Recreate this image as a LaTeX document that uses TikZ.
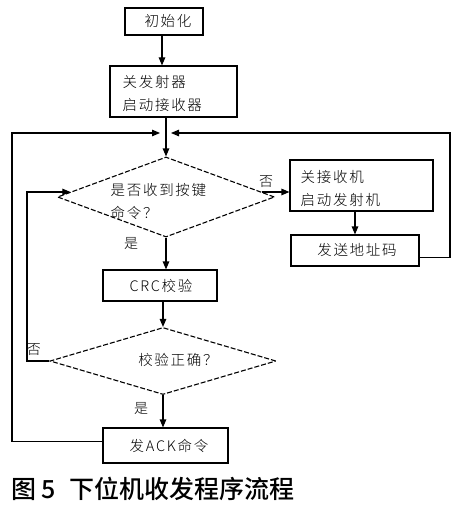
\documentclass[tikz,border=0pt]{standalone}
\usepackage{fontspec}
\setmainfont{Noto Sans CJK SC}[BoldFont={Noto Sans CJK SC Bold}]
\newfontfamily\bodyfont{Noto Sans CJK SC Light}[LetterSpace=12]
\newfontfamily\capfont{Noto Sans CJK SC Medium}
\usetikzlibrary{arrows.meta,shapes.geometric,calc}
\begin{document}
\begin{tikzpicture}[x=1pt,y=-1pt,
  line width=1.1pt,
  arr/.style={-{Triangle[length=8pt,width=6.5pt]}},
  procbox/.style={draw,rectangle,inner sep=0pt},
  decbox/.style={draw,diamond,dashed,dash pattern=on 5pt off 2pt,inner sep=0pt},
  txt/.style={font=\bodyfont\fontsize{14.5}{23}\selectfont,inner sep=0pt},
  lbl/.style={font=\bodyfont\fontsize{14}{16}\selectfont,inner sep=0pt}]
\useasboundingbox (0,0) rectangle (458,508);
% process boxes
\node[procbox,minimum width=78pt,minimum height=27pt] (init) at (164,21.5) {};
\node[txt] (tinit) at (168,21) {初始化};
\node[procbox,minimum width=127pt,minimum height=51pt] (b1) at (173.5,91.5) {};
\node[txt,anchor=west,align=left] (tb1) at (122,93) {关发射器\\启动接收器};
\node[decbox,minimum width=217pt,minimum height=80pt] (d1) at (166,197) {};
\node[txt,anchor=west,align=left] (td1) at (110,201) {是否收到按键\\命令？};
\node[procbox,minimum width=143pt,minimum height=51pt] (b3) at (361.5,185.5) {};
\node[txt,anchor=west,align=left] (tb3) at (300,189) {关接收机\\启动发射机};
\node[procbox,minimum width=128pt,minimum height=31pt] (b4) at (355,250.5) {};
\node[txt] (tb4) at (357,250.5) {发送地址码};
\node[procbox,minimum width=114pt,minimum height=31pt] (crc) at (160,285.5) {};
\node[txt] (tcrc) at (161,285.5) {CRC校验};
\node[decbox,minimum width=226pt,minimum height=67pt] (d2) at (163,361) {};
\node[txt] (td2) at (178,360) {校验正确？};
\node[procbox,minimum width=125pt,minimum height=35pt] (ack) at (165.5,445.5) {};
\node[txt] (tack) at (169,445.5) {发ACK命令};
% labels
\node[lbl] (lno1) at (266,182) {否};
\node[lbl] (lyes1) at (131,243) {是};
\node[lbl] (lno2) at (34,350) {否};
\node[lbl] (lyes2) at (141,408) {是};
% coordinates
\coordinate (L) at (12,133);
\coordinate (R) at (450,133);
\coordinate (mL) at (160,133);
\coordinate (mR) at (171,133);
\coordinate (L2) at (27,361);
% connectors
\draw[arr] (init.south -| 162,0) -- (b1.north -| 162,0);
\draw[arr] (b1.south -| d1.north) -- (d1.north);
\draw[arr] (d1.3.7) -- (d1.3.7 -| b3.west);
\draw[arr] (b4.north |- b3.south) -- (b4.north);
\draw[arr] ([yshift=-7pt]b4.east) -| (R) -- (mR);
\draw[arr] (d1.south) -- (d1.south |- crc.north);
\draw[arr] (crc.south -| d2.north) -- (d2.north);
\draw[arr] (d2.west) -- (L2) |- (d1.177);
\draw[arr] (d2.south) -- (d2.south |- ack.north);
\draw[arr] ([yshift=4pt]ack.west) -| (L) -- (mL);
% caption
\node[font=\capfont\fontsize{25}{28}\selectfont,anchor=west,inner sep=0pt] (cap) at (11,489) {图\hspace{5pt}5\hspace{14pt}下位机收发程序流程};
\end{tikzpicture}
\end{document}
